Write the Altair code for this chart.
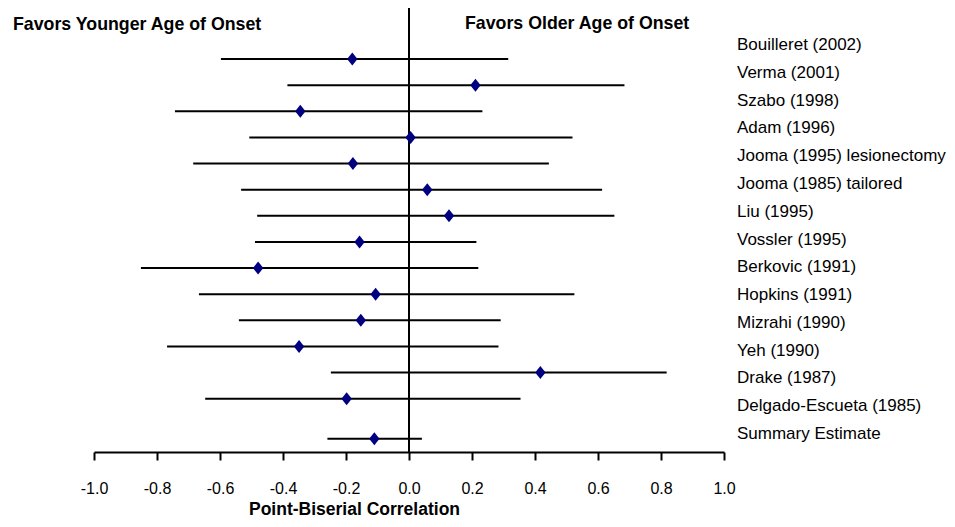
import altair as alt
import pandas as pd

studies = [
    "Bouilleret (2002)", "Verma (2001)", "Szabo (1998)", "Adam (1996)",
    "Jooma (1995) lesionectomy", "Jooma (1985) tailored", "Liu (1995)",
    "Vossler (1995)", "Berkovic (1991)", "Hopkins (1991)", "Mizrahi (1990)",
    "Yeh (1990)", "Drake (1987)", "Delgado-Escueta (1985)", "Summary Estimate",
]
estimate = [-0.180, 0.211, -0.345, 0.005, -0.178, 0.058, 0.127, -0.157,
            -0.479, -0.106, -0.153, -0.349, 0.417, -0.198, -0.110]
lower = [-0.597, -0.386, -0.743, -0.507, -0.685, -0.533, -0.482, -0.489,
         -0.851, -0.667, -0.540, -0.768, -0.248, -0.647, -0.259]
upper = [0.315, 0.684, 0.233, 0.519, 0.444, 0.613, 0.652, 0.214,
         0.220, 0.525, 0.291, 0.284, 0.818, 0.354, 0.041]
headers = ["Favors Younger Age of Onset", "Favors Older Age of Onset"]
tick_values = [-1.0, -0.8, -0.6, -0.4, -0.2, 0.0, 0.2, 0.4, 0.6, 0.8, 1.0]
x_title = "Point-Biserial Correlation"

FONT = "Liberation Sans, Arial, sans-serif"

n = len(studies)
df = pd.DataFrame({
    "study": studies,
    "est": estimate,
    "lo": lower,
    "hi": upper,
    "row": [i if i < n - 1 else i + 0.53 for i in range(n)],
    "label_row": list(range(n)),
})

xscale = alt.Scale(domain=[-1, 1], nice=False, zero=False)
yscale = alt.Scale(domain=[-1.952, 15.04], nice=False, zero=False, reverse=True)
lscale = alt.Scale(domain=[-1.331, 14.646], nice=False, zero=False, reverse=True)

xaxis = alt.Axis(
    values=tick_values,
    labelExpr="replace(format(datum.value, '.1f'), '\u2212', '-')",
    grid=False,
    domainColor="black", domainWidth=2,
    tickColor="black", tickWidth=2, tickSize=8,
    labelFont=FONT, labelFontSize=16, labelColor="black", labelPadding=20,
    labelFlush=False,
    titleFont=FONT, titleFontSize=17.5, titleFontWeight="bold", titleColor="black",
    titleX=260, titleY=57, titleAlign="center", titleBaseline="middle",
)

base = alt.Chart(df)

zero_line = alt.Chart(pd.DataFrame({"v": [0.0]})).mark_rule(
    color="black", strokeWidth=2
).encode(x=alt.X("v:Q", scale=xscale, axis=xaxis, title=x_title))

bars = base.mark_rule(color="black", strokeWidth=2).encode(
    x=alt.X("lo:Q", scale=xscale, title=x_title),
    x2="hi:Q",
    y=alt.Y("row:Q", scale=yscale, axis=None),
)

points = base.mark_point(
    shape="M0,-1L0.8,0L0,1L-0.8,0Z", filled=True, size=169,
    color="#000080", opacity=1, strokeWidth=0,
).encode(
    x=alt.X("est:Q", scale=xscale, title=x_title),
    y=alt.Y("row:Q", scale=yscale, axis=None),
)

labels = base.mark_text(
    align="left", baseline="middle", dx=13, font=FONT, fontSize=17, color="black"
).encode(
    x=alt.datum(1.0),
    y=alt.Y("label_row:Q", scale=lscale, axis=None),
    text="study:N",
)

hdf = pd.DataFrame({"h": headers})
head_left = alt.Chart(hdf).transform_filter(alt.datum.h == headers[0]).mark_text(
    align="left", baseline="middle", dx=-81, font=FONT, fontSize=17.75,
    fontWeight="bold", color="black",
).encode(x=alt.datum(-1.0), y=alt.value(17), text="h:N")

head_right = alt.Chart(hdf).transform_filter(alt.datum.h == headers[1]).mark_text(
    align="left", baseline="middle", dx=56, font=FONT, fontSize=17.75,
    fontWeight="bold", color="black",
).encode(x=alt.datum(0.0), y=alt.value(16), text="h:N")

chart = alt.layer(
    zero_line, bars, points, labels, head_left, head_right
).resolve_scale(y="independent").properties(
    width=630, height=444,
    autosize=alt.AutoSizeParams(type="none"),
    padding={"left": 86, "top": 0, "right": 223, "bottom": 67},
).configure_view(stroke=None)

chart.save("out.html", embed_options={"renderer": "svg", "actions": False})
